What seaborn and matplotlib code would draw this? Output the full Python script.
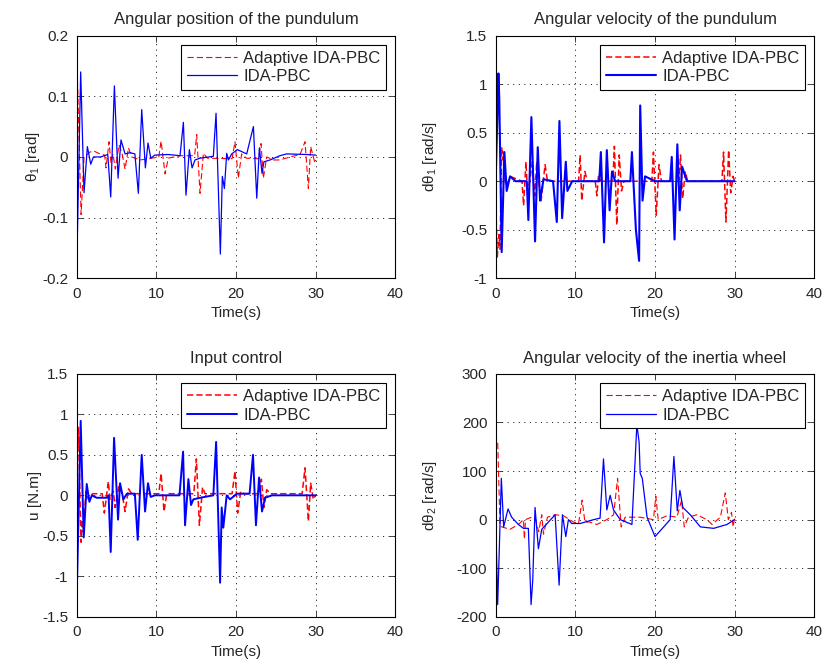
import matplotlib
matplotlib.use("Agg")
import matplotlib.pyplot as plt
import seaborn as sns
import pandas as pd

# values (time in s)
t_pos_ida = [0, 0.5, 0.92, 1.34, 1.76, 2.1, 3.0, 3.9, 4.27, 4.73, 5.19, 5.56, 6.07, 6.7, 7.3,
             7.74, 8.16, 8.62, 8.95, 9.3, 9.8, 11.5, 12.97, 13.39, 13.72, 14.14, 14.48, 14.85,
             15.5, 17.15, 17.49, 18.03, 18.28, 18.54, 18.83, 19.04, 19.46, 20.17, 21.34, 22.18,
             22.6, 22.93, 23.26, 23.5, 24.27, 25.5, 26.36, 28.87, 30]
pos_ida = [-0.186, 0.14, -0.059, 0.017, -0.012, 0.0, 0.0, 0.004, -0.066, 0.117, -0.035, 0.028,
           0.005, 0.007, 0.005, -0.06, 0.078, -0.018, 0.023, -0.002, 0.003, 0.004, 0.002, 0.057,
           -0.063, 0.012, -0.018, -0.005, -0.002, 0.001, 0.072, -0.16, -0.032, -0.052, 0.006,
           -0.005, 0.005, 0.012, 0.005, 0.05, -0.068, 0.015, -0.027, -0.008, -0.005, 0.002,
           0.005, 0.004, 0.003]
t_pos_ada = [0, 0.55, 0.92, 1.67, 2.1, 2.9, 3.5, 3.68, 4.06, 4.3, 4.55, 4.85, 5.31, 5.7, 6.07,
             6.5, 6.9, 7.95, 9.0, 10.3, 10.59, 11.09, 11.5, 13.0, 14.8, 15.06, 15.48, 15.9, 16.4,
             19.5, 19.87, 20.29, 20.7, 21.3, 22.8, 23.14, 23.43, 23.85, 24.7, 25.5, 26.8, 28.03,
             28.66, 29.08, 29.37, 29.9, 30]
pos_ada = [0.173, -0.095, 0.0, 0.008, 0.01, 0.005, 0.003, -0.018, 0.025, -0.01, 0.005, -0.02,
           0.02, 0.005, -0.02, 0.015, 0.0, -0.005, -0.003, 0.0, 0.026, -0.028, -0.002, 0.002,
           0.002, 0.037, -0.06, 0.006, -0.002, -0.003, 0.025, -0.035, 0.005, -0.002, -0.003,
           0.022, -0.035, 0.0, -0.005, -0.005, 0.0, 0.004, 0.025, -0.052, 0.017, -0.01, -0.005]

t_vel_ida = [0, 0.34, 0.45, 0.75, 1.09, 1.38, 1.8, 2.5, 3.9, 4.1, 4.48, 4.94, 5.28, 5.57, 6.0,
             7.2, 7.67, 8.0, 8.34, 8.8, 9.0, 9.6, 13.0, 13.2, 13.6, 13.95, 14.3, 14.6, 15.0,
             16.9, 17.1, 17.6, 18.0, 18.14, 18.43, 18.75, 20.0, 21.9, 22.1, 22.45, 22.8, 23.1,
             23.4, 24.0, 30]
vel_ida = [0.0, 1.11, 0.85, -0.73, 0.3, -0.1, 0.05, 0.0, 0.0, -0.4, 0.66, -0.62, 0.35, -0.2,
           0.02, 0.0, -0.42, 0.62, -0.38, 0.2, -0.1, 0.0, 0.0, 0.3, -0.63, 0.32, -0.3, 0.1, 0.0,
           0.0, 0.3, -0.5, -0.82, 0.78, -0.2, 0.05, 0.0, 0.0, 0.25, -0.6, 0.38, -0.3, 0.15, 0.0,
           0.0]
t_vel_ada = [0, 0.2, 0.4, 0.54, 0.75, 0.88, 1.0, 1.17, 1.38, 1.8, 3.3, 3.5, 3.8, 4.0, 4.3, 4.6,
             4.9, 5.15, 5.4, 5.7, 6.2, 6.5, 10.4, 10.6, 10.8, 11.2, 11.5, 12.5, 12.7, 12.9, 13.2,
             14.7, 14.9, 15.2, 15.5, 15.8, 16.1, 19.6, 19.8, 20.15, 20.5, 20.8, 23.0, 23.2,
             23.46, 23.8, 24.1, 28.4, 28.6, 28.9, 29.24, 29.5, 29.8, 30]
vel_ada = [-0.2, -0.78, -0.55, -0.7, 0.35, 0.22, 0.3, 0.0, -0.05, 0.05, 0.0, -0.25, 0.2, -0.13,
           0.02, 0.2, -0.15, 0.2, 0.0, -0.2, 0.17, 0.0, 0.0, 0.27, -0.2, 0.1, 0.0, 0.0, -0.15,
           0.05, 0.0, 0.0, 0.36, -0.45, 0.27, -0.1, 0.0, 0.0, 0.3, -0.35, 0.17, 0.0, 0.0, 0.27,
           -0.18, 0.1, 0.0, 0.0, 0.3, -0.42, 0.32, -0.12, 0.05, 0.0]

t_u_ida = [0, 0.5, 0.88, 1.26, 1.59, 1.9, 2.5, 3.8, 4.0, 4.27, 4.69, 5.19, 5.44, 5.86, 6.3, 7.3,
           7.66, 8.16, 8.58, 8.95, 9.29, 9.8, 12.9, 13.35, 13.6, 14.02, 14.35, 14.64, 15.5,
           17.15, 17.5, 18.0, 18.2, 18.4, 18.83, 19.25, 20.1, 21.7, 22.13, 22.5, 22.89, 23.26,
           23.64, 24.5, 30]
u_ida = [-1.25, 0.92, -0.52, 0.14, -0.08, 0.0, -0.03, -0.03, 0.0, -0.7, 0.71, -0.3, 0.15, -0.05,
         0.02, 0.02, -0.55, 0.5, -0.2, 0.15, -0.02, 0.0, 0.0, 0.54, -0.37, 0.2, -0.12, -0.05,
         -0.03, 0.0, 0.66, -1.08, -0.15, -0.4, 0.0, -0.05, 0.02, 0.02, 0.5, -0.37, 0.22, -0.2,
         -0.03, 0.0, 0.0]
t_u_ada = [0, 0.13, 0.21, 0.54, 0.71, 0.84, 1.17, 1.46, 2.0, 3.2, 3.47, 3.97, 4.18, 4.6, 4.81,
           5.31, 5.7, 6.07, 6.5, 6.9, 10.3, 10.59, 10.96, 11.3, 14.7, 15.02, 15.4, 15.8, 16.1,
           19.5, 19.87, 20.2, 20.6, 21.0, 22.9, 23.18, 23.5, 23.85, 24.3, 28.3, 28.66, 29.08,
           29.37, 29.7, 30]
u_ada = [1.15, 0.6, 0.85, -0.58, -0.3, -0.45, 0.05, -0.05, 0.02, 0.02, -0.22, 0.17, -0.05, 0.05,
         -0.15, 0.12, 0.02, -0.2, 0.08, 0.02, 0.02, 0.27, -0.2, 0.02, 0.02, 0.45, -0.37, 0.1,
         0.02, 0.02, 0.3, -0.22, 0.05, 0.02, 0.02, 0.2, -0.15, 0.07, 0.02, 0.02, 0.34, -0.32,
         0.15, -0.05, 0.0]

t_w_ida = [0, 0.25, 0.71, 1.0, 1.55, 2.0, 2.85, 3.48, 4.1, 4.44, 4.65, 4.94, 5.36, 5.78, 6.62,
           7.46, 7.96, 8.38, 8.8, 9.13, 9.55, 10.6, 12.3, 13.1, 13.53, 13.95, 14.37, 14.79,
           15.63, 17.1, 17.72, 18.0, 18.14, 18.4, 19.0, 20.0, 21.9, 22.37, 22.79, 23.12, 23.5,
           24.42, 25.7, 27.36, 29.03, 30]
w_ida = [0, -175, 85, -15, 22, 5, -10, -18, -18, -175, -125, 25, -60, -20, -5, 10, -135, 10,
         -35, 0, -8, -8, 0, 3, 125, 20, 50, 20, 0, -10, 195, 160, 95, 85, 5, -35, 0, 130, 18,
         60, 25, 10, -15, -18, -10, 0]
t_w_ada = [0, 0.1, 0.25, 0.54, 0.75, 1.8, 2.85, 3.48, 3.6, 3.75, 4.5, 5.0, 5.4, 5.78, 6.0, 6.5,
           7.46, 8.5, 9.76, 10.4, 10.85, 11.2, 11.8, 12.7, 13.95, 14.8, 15.3, 15.75, 16.25,
           18.1, 19.8, 20.1, 20.4, 21.5, 22.75, 23.33, 23.67, 24.2, 25.26, 26.5, 27.15, 28.2,
           28.82, 29.2, 29.6, 29.8, 30]
w_ada = [0, 165, 160, -10, -15, -20, -10, 0, -40, 0, 5, 0, -25, 10, -30, 5, 10, 8, -5, -8, 40,
         -5, -5, -10, 0, 10, 85, -15, 5, 5, 0, 48, 0, 8, 5, 40, -15, 5, 10, 0, -10, 5, 55, 0,
         15, -15, 5]

titles = ["Angular position of the pundulum", "Angular velocity of the pundulum",
          "Input control", "Angular velocity of the inertia wheel"]
ylabels = ["θ$_\\mathregular{1}$ [rad]", "dθ$_\\mathregular{1}$ [rad/s]", "u [N.m]",
           "dθ$_\\mathregular{2}$ [rad/s]"]
yticks = [[-0.2, -0.1, 0, 0.1, 0.2], [-1, -0.5, 0, 0.5, 1, 1.5],
          [-1.5, -1, -0.5, 0, 0.5, 1, 1.5], [-200, -100, 0, 100, 200, 300]]
ytick_labels = [["-0.2", "-0.1", "0", "0.1", "0.2"], ["-1", "-0.5", "0", "0.5", "1", "1.5"],
                ["-1.5", "-1", "-0.5", "0", "0.5", "1", "1.5"],
                ["-200", "-100", "0", "100", "200", "300"]]
xticks = [0, 10, 20, 30, 40]

sns.set_style("ticks")
plt.rcParams["font.family"] = ["Liberation Sans", "DejaVu Sans"]
plt.rcParams["mathtext.fontset"] = "custom"
plt.rcParams["mathtext.rm"] = "Liberation Sans"
plt.rcParams["font.size"] = 11
plt.rcParams["axes.unicode_minus"] = False
plt.rcParams["lines.scale_dashes"] = False

# (red width, blue width) per panel
series = [
    (t_pos_ada, pos_ada, t_pos_ida, pos_ida, 0.8, 0.9),
    (t_vel_ada, vel_ada, t_vel_ida, vel_ida, 1.1, 1.5),
    (t_u_ada, u_ada, t_u_ida, u_ida, 1.1, 1.4),
    (t_w_ada, w_ada, t_w_ida, w_ida, 0.8, 0.9),
]

fig = plt.figure(figsize=(8.23, 6.63), dpi=100)
lefts = [0.0932, 0.6023, 0.0932, 0.6023]
bottoms = [0.5802, 0.5802, 0.0698, 0.0698]
ylabel_x = [-0.11, -0.178, -0.11, -0.178]

for i in range(4):
    ax = fig.add_axes([lefts[i], bottoms[i], 0.3872, 0.3662])
    ta, ya, tb, yb, lw_a, lw_b = series[i]
    df_a = pd.DataFrame({"t": ta, "y": ya})
    df_b = pd.DataFrame({"t": tb, "y": yb})
    sns.lineplot(data=df_a, x="t", y="y", ax=ax, color="red", linestyle=(0, (4.5, 2.2)),
                 linewidth=lw_a, sort=False, estimator=None, label="Adaptive IDA-PBC")
    sns.lineplot(data=df_b, x="t", y="y", ax=ax, color="blue", linewidth=lw_b,
                 sort=False, estimator=None, label="IDA-PBC")
    ax.set_xlim(0, 40)
    ax.set_ylim(yticks[i][0], yticks[i][-1])
    ax.set_xticks(xticks)
    ax.set_xticklabels([str(x) for x in xticks])
    ax.set_yticks(yticks[i])
    ax.set_yticklabels(ytick_labels[i])
    ax.grid(True, linestyle=(0, (0.8, 3.2)), color="black", linewidth=0.6)
    ax.tick_params(direction="in", top=True, right=True, length=4, width=0.6,
                   labelsize=11, pad=6)
    for s in ax.spines.values():
        s.set_linewidth(0.8)
        s.set_color("black")
    ax.set_title(titles[i], fontsize=12, pad=8)
    ax.set_xlabel("Time(s)", fontsize=11, labelpad=4)
    ax.set_ylabel(ylabels[i], fontsize=11)
    ax.yaxis.set_label_coords(ylabel_x[i], 0.5)
    leg = ax.legend(loc="upper right", fontsize=12, frameon=True, fancybox=False,
                    handlelength=3.0, handletextpad=0.35, borderaxespad=0.55,
                    borderpad=0.35, labelspacing=0.22)
    leg.get_frame().set_edgecolor("black")
    leg.get_frame().set_linewidth(0.8)
    leg.get_frame().set_alpha(1)

plt.savefig("out.png", dpi=100)
